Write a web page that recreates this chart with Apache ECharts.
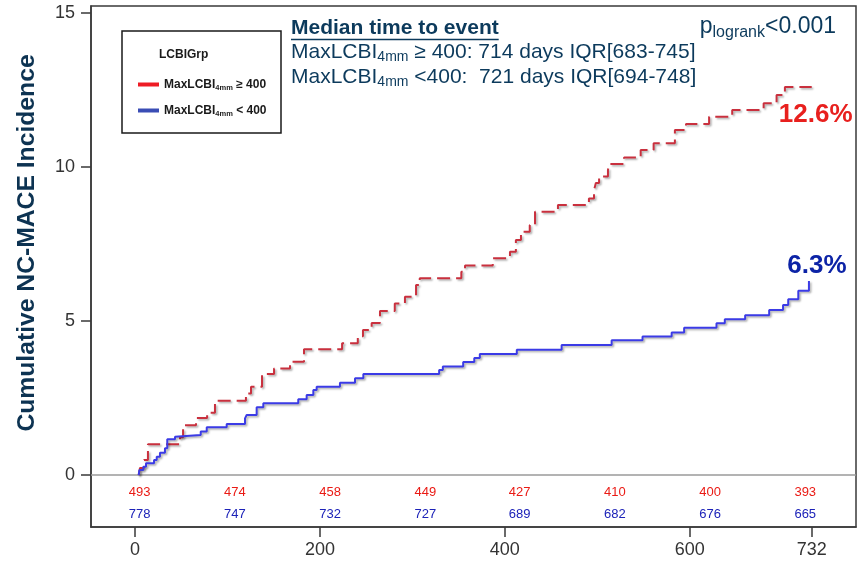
<!DOCTYPE html>
<html>
<head>
<meta charset="utf-8">
<script src="https://cdn.jsdelivr.net/npm/echarts@6/dist/echarts.min.js"></script>
<style>
  html, body { margin: 0; padding: 0; background: #ffffff; }
  #chart { width: 867px; height: 562px; }
</style>
</head>
<body>
<div id="chart"></div>
<script>
// Kaplan-Meier style cumulative NC-MACE incidence (%) by MaxLCBI(4mm) group.
// Each pair (day, incidence) is the level reached at that day (step curve).
const highDays = [4, 5.4, 9.7, 14, 48.7, 52, 66, 78, 86.5, 120, 125.5, 137.4, 150.4, 167.7, 182.8,
  224, 241, 246.6, 256, 265, 281, 292, 304, 308, 353, 357, 387, 405.6, 412, 417.5, 427, 432.7,
  457.5, 491, 496.5, 498.5, 502, 511.6, 512.7, 529, 547, 561, 584, 596, 621, 646, 680, 694, 703, 732];
const highInc = [0, 0.23, 0.49, 1.0, 1.23, 1.62, 1.85, 2.02, 2.41, 2.65, 2.87, 3.28, 3.46, 3.68, 4.08,
  4.28, 4.51, 4.71, 4.94, 5.33, 5.57, 5.79, 6.17, 6.39, 6.6, 6.8, 7.04, 7.25, 7.63, 7.9, 8.12, 8.55,
  8.77, 8.98, 9.25, 9.48, 9.69, 9.9, 10.1, 10.31, 10.55, 10.77, 11.2, 11.4, 11.63, 11.85, 12.07, 12.34, 12.6, 12.6];

const lowDays = [4, 4.7, 9, 11.9, 20.6, 23.5, 27, 32.4, 34.9, 43.3, 45.1, 71.1, 77.6, 99.2, 119, 120.8,
  131.6, 138.8, 176.6, 185.7, 192.9, 196.5, 221.7, 238, 247, 329, 333, 355, 367, 373, 413, 461.5,
  515.6, 549, 580.5, 594, 629, 638, 660, 686, 701, 706.6, 717.5, 729];
const lowInc = [0, 0.16, 0.27, 0.38, 0.49, 0.59, 0.72, 0.87, 1.16, 1.24, 1.30, 1.41, 1.55, 1.66, 1.84, 1.95,
  2.20, 2.33, 2.46, 2.60, 2.76, 2.87, 3.00, 3.14, 3.28, 3.41, 3.52, 3.67, 3.80, 3.93, 4.07, 4.22,
  4.38, 4.50, 4.63, 4.78, 4.93, 5.06, 5.19, 5.36, 5.52, 5.71, 5.98, 6.3];

// Numbers at risk
const riskDays = [5, 108, 211, 314, 416, 519, 622, 725];
const riskHigh = [493, 474, 458, 449, 427, 410, 400, 393];
const riskLow = [778, 747, 732, 727, 689, 682, 676, 665];
const riskRowHigh = -0.58;
const riskRowLow = -1.27;

const xTicks = [0, 200, 400, 600, 732];
const yTicks = [0, 5, 10, 15];

const groupNames = ['MaxLCBI4mm ≥ 400', 'MaxLCBI4mm < 400'];
const groupLegend = ['MaxLCBI{s|4mm} ≥ 400', 'MaxLCBI{s|4mm} < 400'];
const medianTitle = 'Median time to event';
const medianLines = [
  'MaxLCBI{s|4mm} ≥ 400: 714 days IQR[683-745]',
  'MaxLCBI{s|4mm} <400:  721 days IQR[694-748]'
];

const FONT = '"Liberation Sans", Arial, Helvetica, sans-serif';
const NAVY = '#0c3a5c';
const RED_LINE = '#c9303e';
const BLUE_LINE = '#3b3be6';

const pairs = (xs, ys) => xs.map((x, i) => [x, ys[i]]);
const last = a => a[a.length - 1];

function textWidth(str, font) {
  const ctx = document.createElement('canvas').getContext('2d');
  ctx.font = font;
  return ctx.measureText(str).width;
}

const shadow = {
  shadowColor: 'rgba(0,0,0,0.32)',
  shadowBlur: 2,
  shadowOffsetX: 1.5,
  shadowOffsetY: 1.5
};

const chart = echarts.init(document.getElementById('chart'), null, { renderer: 'canvas' });

const titleFont = 'bold 21px ' + FONT;
const underlineLen = textWidth(medianTitle, titleFont);

function riskSeries(name, row, counts, color) {
  return {
    name: name,
    type: 'scatter',
    symbolSize: 1,
    itemStyle: { color: 'rgba(0,0,0,0)', opacity: 1 },
    data: riskDays.map((d, i) => [d, row, counts[i]]),
    label: { show: true, position: 'inside', formatter: p => p.value[2],
      fontFamily: FONT, fontSize: 13, color: color, opacity: 1 },
    silent: true
  };
}

chart.setOption({
  animation: false,
  backgroundColor: '#ffffff',
  textStyle: { fontFamily: FONT },
  grid: {
    left: 91, right: 11, top: 6, bottom: 35,
    show: true, borderColor: '#3a3a3a', borderWidth: 1.5, backgroundColor: 'transparent'
  },
  xAxis: {
    type: 'value',
    min: -47.6, max: 779.9,
    splitLine: { show: false },
    axisLine: { onZero: false, lineStyle: { color: '#3a3a3a', width: 1.5 } },
    axisTick: { customValues: xTicks, length: 10, lineStyle: { color: '#3a3a3a', width: 1.5 } },
    axisLabel: { customValues: xTicks, margin: 14, fontSize: 18, color: '#333333', fontFamily: FONT }
  },
  yAxis: {
    type: 'value',
    min: -1.688, max: 15.23,
    splitLine: { show: false },
    axisLine: { onZero: false, lineStyle: { color: '#3a3a3a', width: 1.5 } },
    axisTick: { customValues: yTicks, length: 10, lineStyle: { color: '#3a3a3a', width: 1.5 } },
    axisLabel: { customValues: yTicks, margin: 16, fontSize: 18, color: '#333333', fontFamily: FONT }
  },
  legend: {
    orient: 'vertical',
    left: 133, top: 72,
    itemWidth: 21, itemHeight: 4, itemGap: 11,
    selectedMode: false,
    data: [
      { name: groupNames[0], icon: 'rect', itemStyle: { color: '#ee1c25', borderWidth: 0 } },
      { name: groupNames[1], icon: 'rect', itemStyle: { color: '#3a4db5', borderWidth: 0 } }
    ],
    formatter: name => groupLegend[groupNames.indexOf(name)],
    textStyle: {
      fontFamily: FONT, fontSize: 12, fontWeight: 'bold', color: '#1a1a1a', lineHeight: 15,
      rich: { s: { fontSize: 7.5, fontWeight: 'bold', color: '#1a1a1a', verticalAlign: 'bottom', lineHeight: 9 } }
    }
  },
  graphic: [
    // legend frame and heading
    { type: 'rect', shape: { x: 122, y: 31, width: 159, height: 102 },
      style: { fill: 'transparent', stroke: '#1a1a1a', lineWidth: 1.5 }, z: 1 },
    { type: 'text', x: 159, y: 55,
      style: { text: 'LCBIGrp', font: 'bold 12px ' + FONT, fill: '#1a1a1a', verticalAlign: 'middle' } },
    // y axis title
    { type: 'text', x: 27, y: 243, rotation: Math.PI / 2,
      style: { text: 'Cumulative NC-MACE Incidence', font: 'bold 24.7px ' + FONT, fill: '#0d3352',
        align: 'center', verticalAlign: 'middle' } },
    // median time to event block
    { type: 'text', x: 291, y: 28,
      style: { text: medianTitle, font: titleFont, fill: NAVY, verticalAlign: 'middle' } },
    { type: 'line', shape: { x1: 291, y1: 39.5, x2: 291 + underlineLen, y2: 39.5 },
      style: { stroke: NAVY, lineWidth: 1.6 } },
    { type: 'text', x: 291, y: 52,
      style: { text: medianLines[0], fontFamily: FONT, fontSize: 21, fill: NAVY, verticalAlign: 'middle', lineHeight: 24,
        rich: { s: { fontFamily: FONT, fontSize: 14, fill: NAVY, verticalAlign: 'bottom', lineHeight: 14 } } } },
    { type: 'text', x: 291, y: 77,
      style: { text: medianLines[1], fontFamily: FONT, fontSize: 21, fill: NAVY, verticalAlign: 'middle', lineHeight: 24,
        rich: { s: { fontFamily: FONT, fontSize: 14, fill: NAVY, verticalAlign: 'bottom', lineHeight: 14 } } } },
    // log-rank p value
    { type: 'text', x: 836, y: 27,
      style: { text: '{p|p}{s|logrank}{p|<0.001}', align: 'right', verticalAlign: 'middle',
        rich: {
          p: { fontFamily: FONT, fontSize: 23, fill: NAVY, lineHeight: 28 },
          s: { fontFamily: FONT, fontSize: 16, fill: NAVY, verticalAlign: 'bottom', lineHeight: 16 }
        } } }
  ],
  series: [
    {
      name: groupNames[0],
      type: 'line',
      step: 'end',
      data: pairs(highDays, highInc),
      showSymbol: false,
      symbol: 'none',
      z: 3,
      lineStyle: Object.assign({ color: RED_LINE, width: 2, type: [13, 6], cap: 'butt' }, shadow),
      itemStyle: { color: RED_LINE },
      markLine: {
        silent: true,
        symbol: 'none',
        label: { show: false },
        lineStyle: { color: '#9a9a9a', width: 1.5, type: 'solid' },
        data: [{ yAxis: 0 }],
        z: 1
      },
      markPoint: {
        silent: true,
        symbol: 'circle',
        symbolSize: 1,
        itemStyle: { color: 'rgba(0,0,0,0)' },
        data: [{ coord: [last(highDays), last(highInc)], value: last(highInc) }],
        label: {
          show: true, position: 'inside', offset: [4, 28],
          formatter: p => p.value.toFixed(1) + '%',
          fontFamily: FONT, fontSize: 26, fontWeight: 'bold', color: '#e8201e'
        }
      }
    },
    {
      name: groupNames[1],
      type: 'line',
      step: 'end',
      data: pairs(lowDays, lowInc),
      showSymbol: false,
      symbol: 'none',
      z: 4,
      lineStyle: Object.assign({ color: BLUE_LINE, width: 2, type: 'solid' }, shadow),
      itemStyle: { color: BLUE_LINE },
      markPoint: {
        silent: true,
        symbol: 'circle',
        symbolSize: 1,
        itemStyle: { color: 'rgba(0,0,0,0)' },
        data: [{ coord: [last(lowDays), last(lowInc)], value: last(lowInc) }],
        label: {
          show: true, position: 'inside', offset: [8, -15],
          formatter: p => p.value.toFixed(1) + '%',
          fontFamily: FONT, fontSize: 26, fontWeight: 'bold', color: '#0c23a6'
        }
      }
    },
    riskSeries('at risk high', riskRowHigh, riskHigh, '#ea1a14'),
    riskSeries('at risk low', riskRowLow, riskLow, '#1c22b8')
  ]
});
</script>
</body>
</html>
